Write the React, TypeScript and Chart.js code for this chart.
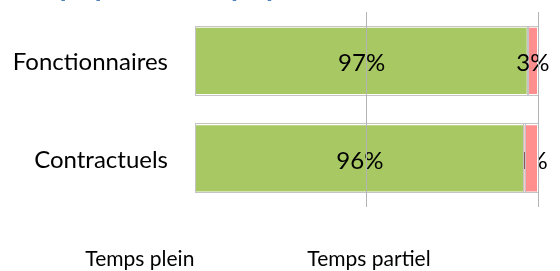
import React, { useEffect, useRef } from "react";
import { Chart, registerables } from "chart.js";

Chart.register(...registerables);

// ---- data ----
const categories = ["Fonctionnaires", "Contractuels"];
const tempsPlein = [97, 96];
const tempsPartiel = [3, 4];
const seriesNames = ["Temps plein", "Temps partiel"];
const xTickValues = [0, 50, 100];
const titleText = "Temps plein / temps partiel";

// ---- styles ----
const FONT = "Lato";
const GREEN = "#A8C864";
const PINK = "#FF8E8E";
const OUTLINE = "#C4C4C4";
const GRID = "#B4B4B4";
const TITLE_BLUE = "#4F81BD";
const LABEL_SIZE = 24;
// which data labels sit underneath their bar (as in the source picture)
const LABEL_UNDER = [
  [false, false],
  [false, true],
];

function drawLabels(chart: any, under: boolean) {
  const ctx = chart.ctx;
  ctx.save();
  ctx.font = `${LABEL_SIZE}px ${FONT}`;
  ctx.fillStyle = "#000";
  ctx.textAlign = "center";
  ctx.textBaseline = "alphabetic";
  chart.data.datasets.forEach((ds: any, di: number) => {
    const meta = chart.getDatasetMeta(di);
    meta.data.forEach((el: any, i: number) => {
      if (LABEL_UNDER[di][i] !== under) return;
      const p = el.getProps(["x", "y", "base"], true);
      const cx = (p.x + p.base) / 2;
      ctx.fillText(`${ds.data[i]}%`, cx, p.y + LABEL_SIZE * 0.43);
    });
  });
  ctx.restore();
}

const decor = {
  id: "decor",
  beforeDatasetsDraw(chart: any) {
    drawLabels(chart, true);
  },
  afterDatasetsDraw(chart: any) {
    const ctx = chart.ctx;
    ctx.save();
    ctx.strokeStyle = OUTLINE;
    ctx.lineWidth = 1;
    chart.data.datasets.forEach((_: any, di: number) => {
      chart.getDatasetMeta(di).data.forEach((el: any) => {
        const p = el.getProps(["x", "y", "base", "height"], true);
        const l = Math.min(p.x, p.base);
        const r = Math.max(p.x, p.base);
        const t = p.y - p.height / 2;
        const b = p.y + p.height / 2;
        ctx.strokeRect(Math.round(l) - 0.5, Math.round(t) - 0.5, Math.round(r - l) + 1, Math.round(b - t) + 1);
      });
    });
    ctx.restore();
    drawLabels(chart, false);
  },
  afterDraw(chart: any) {
    const ctx = chart.ctx;
    ctx.save();
    ctx.font = `bold 28px ${FONT}`;
    ctx.fillStyle = TITLE_BLUE;
    ctx.textAlign = "left";
    ctx.textBaseline = "alphabetic";
    ctx.fillText(titleText, 8, -4);
    ctx.restore();
  },
};

export default function App() {
  const ref = useRef<HTMLCanvasElement>(null);
  useEffect(() => {
    if (!ref.current) return;
    const chart = new Chart(ref.current, {
      type: "bar",
      data: {
        labels: categories,
        datasets: [
          {
            label: seriesNames[0],
            data: tempsPlein,
            backgroundColor: GREEN,
            borderColor: "#FFFFFF",
            borderWidth: 1,
            barPercentage: 0.875,
            categoryPercentage: 0.8,
          },
          {
            label: seriesNames[1],
            data: tempsPartiel,
            backgroundColor: PINK,
            borderColor: "#FFFFFF",
            borderWidth: 1,
            barPercentage: 0.875,
            categoryPercentage: 0.8,
          },
        ],
      },
      options: {
        indexAxis: "y",
        animation: false,
        responsive: true,
        maintainAspectRatio: false,
        layout: { padding: { left: 12, right: -15, top: 12, bottom: 0 } },
        scales: {
          x: {
            type: "linear",
            stacked: true,
            min: 0,
            max: 100,
            afterBuildTicks: (s: any) => {
              s.ticks = xTickValues.map((v) => ({ value: v }));
            },
            ticks: { display: false },
            grid: {
              z: 1,
              drawTicks: false,
              lineWidth: 1,
              color: (c: any) => (c.tick && c.tick.value === 0 ? "rgba(0,0,0,0)" : GRID),
            },
            border: { display: false },
          },
          y: {
            type: "category",
            stacked: true,
            grid: { display: false, drawTicks: false },
            border: { display: false },
            ticks: { font: { family: FONT, size: 24 }, color: "#000", padding: 27, labelOffset: 2 },
            afterFit: (s: any) => {
              s.width = 183;
              s.paddingTop = 0;
              s.paddingBottom = 0;
            },
          },
          yRight: {
            type: "linear",
            axis: "y",
            position: "right",
            display: true,
            grid: { display: false, drawTicks: false },
            border: { display: false },
            ticks: { display: false },
            afterFit: (s: any) => {
              s.width = 37;
              s.paddingTop = 0;
              s.paddingBottom = 0;
            },
          },
        },
        plugins: {
          tooltip: { enabled: false },
          title: { display: false },
          legend: {
            display: true,
            position: "bottom",
            align: "center",
            rtl: true,
            reverse: true,
            maxHeight: 64,
            labels: {
              font: { family: FONT, size: 21 },
              color: "#000",
              boxWidth: 60.5,
              boxHeight: 0,
              padding: 42,
              generateLabels: (c: any) =>
                Chart.defaults.plugins.legend.labels.generateLabels(c).map((l: any) => ({
                  ...l,
                  fillStyle: "rgba(0,0,0,0)",
                  strokeStyle: "rgba(0,0,0,0)",
                  lineWidth: 0,
                })),
            },
          },
        },
      } as any,
      plugins: [decor],
    });
    return () => chart.destroy();
  }, []);
  return (
    <div style={{ position: "absolute", left: 0, top: 0, width: 560, height: 271 }}>
      <canvas ref={ref} />
    </div>
  );
}
